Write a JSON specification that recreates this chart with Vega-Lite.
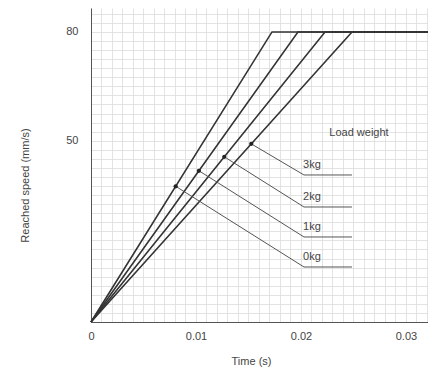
{
  "$schema": "https://vega.github.io/schema/vega-lite/v6.json",
  "autosize": "none",
  "width": 337,
  "height": 314,
  "padding": {"left": 91, "top": 8, "right": 0, "bottom": 56},
  "background": "white",
  "config": {
    "view": {"stroke": null},
    "font": "Liberation Sans",
    "axis": {"labelFont": "Liberation Sans", "titleFont": "Liberation Sans", "labelColor": "#444", "titleColor": "#444", "labelFontSize": 11, "titleFontSize": 11, "titleFontWeight": "normal", "domainColor": "#555", "gridColor": "#dcdcdc", "gridWidth": 0.8, "labelOverlap": false}
  },
  "datasets": {
    "lines": [
      {"load": "0kg", "t": 0, "v": 0}, {"load": "0kg", "t": 0.01724, "v": 80}, {"load": "0kg", "t": 0.0321, "v": 80},
      {"load": "1kg", "t": 0, "v": 0}, {"load": "1kg", "t": 0.01971, "v": 80}, {"load": "1kg", "t": 0.0321, "v": 80},
      {"load": "2kg", "t": 0, "v": 0}, {"load": "2kg", "t": 0.02229, "v": 80}, {"load": "2kg", "t": 0.0321, "v": 80},
      {"load": "3kg", "t": 0, "v": 0}, {"load": "3kg", "t": 0.02486, "v": 80}, {"load": "3kg", "t": 0.0321, "v": 80}
    ],
    "leaders": [
      {"load": "0kg", "i": 1, "t": 0.008067, "v": 37.43}, {"load": "0kg", "i": 2, "t": 0.020286, "v": 15.17}, {"load": "0kg", "i": 3, "t": 0.024857, "v": 15.17},
      {"load": "1kg", "i": 1, "t": 0.010276, "v": 41.71}, {"load": "1kg", "i": 2, "t": 0.020286, "v": 23.45}, {"load": "1kg", "i": 3, "t": 0.024857, "v": 23.45},
      {"load": "2kg", "i": 1, "t": 0.012695, "v": 45.57}, {"load": "2kg", "i": 2, "t": 0.020286, "v": 31.72}, {"load": "2kg", "i": 3, "t": 0.024857, "v": 31.72},
      {"load": "3kg", "i": 1, "t": 0.015267, "v": 49.13}, {"load": "3kg", "i": 2, "t": 0.020286, "v": 40.55}, {"load": "3kg", "i": 3, "t": 0.024857, "v": 40.55}
    ],
    "labels": [
      {"text": "Load weight", "t": 0.025524, "v": 52.14, "kind": "title"},
      {"text": "3kg", "t": 0.02105, "v": 43.31, "kind": "load"},
      {"text": "2kg", "t": 0.02105, "v": 34.48, "kind": "load"},
      {"text": "1kg", "t": 0.02105, "v": 26.21, "kind": "load"},
      {"text": "0kg", "t": 0.02105, "v": 17.93, "kind": "load"}
    ]
  },
  "encoding": {
    "x": {"field": "t", "type": "quantitative", "scale": {"domain": [0, 0.0321], "nice": false},
      "axis": {"values": [0,0.001,0.002,0.003,0.004,0.005,0.006,0.007,0.008,0.009,0.01,0.011,0.012,0.013,0.014,0.015,0.016,0.017,0.018,0.019,0.02,0.021,0.022,0.023,0.024,0.025,0.026,0.027,0.028,0.029,0.03,0.031,0.032],
        "labelExpr": "round(datum.value*1000) % 10 == 0 ? (datum.value == 0 ? '0' : format(datum.value, '.2f')) : ''",
        "ticks": false, "labelPadding": 8, "title": "Time (s)", "titleY": 33, "titleX": 160, "labelFlush": false}},
    "y": {"field": "v", "type": "quantitative", "scale": {"domain": [0, 86.6], "nice": false},
      "axis": {"values": [0,2.5,5,7.5,10,12.5,15,17.5,20,22.5,25,27.5,30,32.5,35,37.5,40,42.5,45,47.5,50,52.5,55,57.5,60,62.5,65,67.5,70,72.5,75,77.5,80,82.5,85],
        "labelExpr": "datum.value == 50 || datum.value == 80 ? datum.label : ''",
        "ticks": false, "labelPadding": 13, "title": "Reached speed (mm/s)", "titleX": -61, "titleY": 177}}
  },
  "layer": [
    {
      "data": {"name": "lines"},
      "mark": {"type": "line", "color": "#333", "strokeWidth": 1.6},
      "encoding": {"detail": {"field": "load"}}
    },
    {
      "data": {"name": "leaders"},
      "mark": {"type": "line", "color": "#555", "strokeWidth": 1},
      "encoding": {
        "detail": {"field": "load"},
        "order": {"field": "i"}
      }
    },
    {
      "data": {"name": "leaders"},
      "transform": [{"filter": "datum.i == 1"}],
      "mark": {"type": "point", "filled": true, "color": "#222", "size": 18, "opacity": 1},
      "encoding": {}
    },
    {
      "data": {"name": "labels"},
      "mark": {"type": "text", "baseline": "middle", "fontSize": 11, "color": "#444"},
      "encoding": {
        "text": {"field": "text"},
        "align": {"condition": {"test": "datum.kind == 'title'", "value": "center"}, "value": "left"}
      }
    }
  ]
}
